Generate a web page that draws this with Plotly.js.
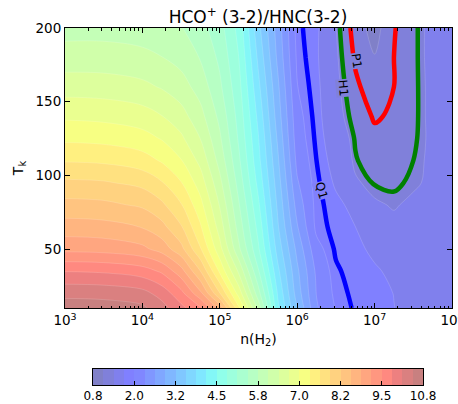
<!DOCTYPE html>
<html><head><meta charset="utf-8">
<script src="https://cdn.plot.ly/plotly-3.0.1.min.js"></script>
<style>html,body{margin:0;padding:0;background:#fff}</style>
</head><body><div id="chart" style="width:458px;height:404px"></div>
<script>
// density n(H2) grid (cm^-3) and kinetic temperature grid (K)
const nH2 = [1e3, 3.162e3, 1e4, 1.778e4, 3.162e4, 5.623e4, 1e5, 1.778e5, 3.162e5, 5.623e5,
             1e6, 1.778e6, 3.162e6, 5.623e6, 1e7, 1.778e7, 3.162e7, 5.623e7, 1e8];
const Tk = [10, 20, 35, 50, 65, 80, 95, 110, 125, 140, 160, 180, 200];
// HCO+(3-2)/HNC(3-2) ratio, one row per Tk value
const ratio = [
  [10.65,10.63,10.55,10.3,9.95,9.6,8.8,7.4,6.0,4.3,3.3,2.4,2.03,1.87,1.8,1.74,1.68,1.64,1.62],
  [10.4,10.38,10.28,10.05,9.65,9.0,8.0,6.9,5.6,4.2,3.15,2.35,1.98,1.85,1.78,1.735,1.67,1.64,1.62],
  [9.85,9.82,9.7,9.5,9.05,8.3,7.3,6.35,5.2,4.0,3.05,2.3,1.93,1.82,1.76,1.70,1.65,1.62,1.61],
  [9.15,9.12,9.0,8.8,8.4,7.7,6.85,5.85,4.9,3.8,2.9,2.15,1.87,1.78,1.70,1.60,1.58,1.59,1.60],
  [8.75,8.72,8.6,8.4,8.02,7.4,6.6,5.65,4.75,3.65,2.7,1.98,1.84,1.74,1.52,1.47,1.49,1.53,1.57],
  [8.4,8.37,8.25,8.05,7.7,7.15,6.4,5.5,4.6,3.55,2.55,1.96,1.80,1.66,1.45,1.41,1.46,1.50,1.55],
  [8.05,8.02,7.9,7.7,7.38,6.9,6.2,5.35,4.45,3.45,2.4,1.94,1.70,1.45,1.37,1.36,1.40,1.46,1.54],
  [7.65,7.62,7.5,7.33,7.07,6.65,6.0,5.22,4.33,3.35,2.28,1.90,1.62,1.39,1.32,1.33,1.38,1.46,1.54],
  [7.3,7.27,7.17,7.03,6.8,6.42,5.85,5.12,4.25,3.25,2.2,1.86,1.55,1.37,1.285,1.30,1.36,1.46,1.54],
  [7.0,6.97,6.88,6.75,6.55,6.22,5.72,5.05,4.15,3.15,2.15,1.83,1.49,1.33,1.235,1.27,1.35,1.47,1.55],
  [6.6,6.58,6.5,6.4,6.25,5.98,5.55,4.95,4.0,3.05,2.06,1.8,1.47,1.28,1.17,1.25,1.35,1.47,1.55],
  [6.25,6.25,6.2,6.12,6.0,5.78,5.42,4.85,3.85,2.92,2.0,1.77,1.45,1.23,1.12,1.25,1.35,1.48,1.56],
  [6.0,6.0,5.95,5.9,5.82,5.6,5.3,4.75,3.7,2.85,1.95,1.78,1.43,1.19,1.05,1.24,1.35,1.48,1.56]
];
// observed ratios of the sources, drawn as labelled contours
const sources = ['Q1', 'H1', 'P1'];
const sourceRatio = [1.9, 1.38, 1.25];
// colour levels and colorbar ticks
const levStart = 0.8, levEnd = 10.8, levSize = 0.3125;
const cbTickVals = [0.8, 2.05, 3.3, 4.55, 5.8, 7.05, 8.3, 9.55, 10.8];
const cbTickText = ['0.8', '2.0', '3.2', '4.5', '5.8', '7.0', '8.2', '9.5', '10.8'];
const xTickVals = [1e3, 1e4, 1e5, 1e6, 1e7, 1e8];
const xTickText = ['10<sup>3</sup>', '10<sup>4</sup>', '10<sup>5</sup>', '10<sup>6</sup>', '10<sup>7</sup>', '10<sup>8</sup>'];
const yTickVals = [50, 100, 150, 200];

// ---- styling ----
const W = 458, H = 404;
const sourceColor = ['#0000ff', '#008000', '#ff0000'];
const labelPos = [[6.31, 90, 74], [6.59, 159, 85], [6.76, 178, 82]];
const labelBg = ['rgb(128,128,252)', 'rgb(128,128,218)', 'rgb(128,128,218)'];
const FONT = 'DejaVu Sans';

function seg(pts, t) {
  for (let i = 0; i < pts.length - 1; i++) {
    const [x0, y0] = pts[i], [x1, y1] = pts[i + 1];
    if (t >= x0 && t <= x1) return y0 + (y1 - y0) * (t - x0) / (x1 - x0);
  }
  return pts[pts.length - 1][1];
}
function jetAlpha(t) {
  t = Math.max(0, Math.min(1, t));
  const r = seg([[0,0],[0.35,0],[0.66,1],[0.89,1],[1,0.5]], t);
  const g = seg([[0,0],[0.125,0],[0.375,1],[0.64,1],[0.91,0],[1,0]], t);
  const b = seg([[0,0.5],[0.11,1],[0.34,1],[0.65,0],[1,0]], t);
  const f = v => Math.round(255 * (0.5 * v + 0.5));
  return 'rgb(' + f(r) + ',' + f(g) + ',' + f(b) + ')';
}
const nBands = Math.round((levEnd - levStart) / levSize); // 32
const colorscale = [];
for (let k = 0; k <= nBands + 1; k++) {
  colorscale.push([k / (nBands + 1), jetAlpha((k - 0.5) / nBands)]);
}
// colorbar cells: one per band, centred on band middle
const cbMid = [], cbIdx = [];
for (let k = 1; k <= nBands; k++) { cbMid.push(levStart + (k - 0.5) * levSize); cbIdx.push(k); }

const minorVals = [];
for (let d = 3; d < 8; d++) for (let m = 2; m <= 9; m++) minorVals.push(m * Math.pow(10, d));

const traces = [{
  type: 'contour', x: nH2, y: Tk, z: ratio, autocontour: false, showscale: false,
  colorscale: colorscale, hoverinfo: 'skip',
  contours: {start: levStart, end: levEnd, size: levSize, coloring: 'fill', showlines: true},
  line: {color: 'rgba(255,255,255,0.3)', width: 0.5, smoothing: 1}
}];
sources.forEach((s, i) => traces.push({
  type: 'contour', x: nH2, y: Tk, z: ratio, showscale: false, autocontour: false, hoverinfo: 'skip',
  contours: {start: sourceRatio[i], end: sourceRatio[i], size: 1, coloring: 'none'},
  line: {color: sourceColor[i], width: 4.5, smoothing: 1}
}));
// colour bar drawn as a one-row heatmap on its own axes
traces.push({
  type: 'heatmap', x: cbMid, y: [0.5], z: [cbIdx], zmin: 0, zmax: nBands + 1,
  colorscale: colorscale, showscale: false, hoverinfo: 'skip', xaxis: 'x2', yaxis: 'y2'
});

const annotations = sources.map((s, i) => ({
  x: labelPos[i][0], y: labelPos[i][1], xref: 'x', yref: 'y', text: s, showarrow: false,
  textangle: labelPos[i][2], bgcolor: labelBg[i], borderpad: 0,
  font: {family: FONT, size: 12, color: '#000'}
}));

const axisCommon = {showline: true, linecolor: '#000', linewidth: 1, mirror: 'allticks',
  ticks: 'inside', ticklen: 5, tickcolor: '#000', showgrid: false, zeroline: false,
  ticklabeloverflow: 'allow',
  tickfont: {family: FONT, size: 13.5, color: '#000'}};

const layout = {
  width: W, height: H, paper_bgcolor: '#fff', plot_bgcolor: '#fff',
  margin: {l: 0, r: 0, t: 0, b: 0},
  font: {family: FONT, color: '#000'},
  title: {text: 'HCO<sup>+</sup> (3-2)/HNC(3-2)', font: {family: FONT, size: 17, color: '#000'},
          x: 258 / W, xref: 'container', xanchor: 'center', y: 1 - 17 / H, yanchor: 'middle'},
  xaxis: Object.assign({}, axisCommon, {type: 'log', range: [3, 8], domain: [65 / W, 452 / W],
    anchor: 'y', tickmode: 'array', tickvals: xTickVals, ticktext: xTickText,
    minor: {ticks: 'inside', ticklen: 2.5, tickcolor: '#000', tickvals: minorVals},
    title: {text: 'n(H<sub>2</sub>)', font: {family: FONT, size: 14, color: '#000'}, standoff: 6}}),
  yaxis: Object.assign({}, axisCommon, {range: [10, 200], domain: [(H - 308) / H, (H - 28) / H],
    anchor: 'x', tickmode: 'array', tickvals: yTickVals,
    title: {text: 'T<sub>k</sub>', font: {family: FONT, size: 14, color: '#000'}, standoff: 8}}),
  xaxis2: {domain: [93 / W, 423 / W], anchor: 'y2', range: [levStart, levEnd], showgrid: false, zeroline: false,
    showline: true, mirror: true, linecolor: '#000', linewidth: 1,
    tickmode: 'array', tickvals: cbTickVals, ticktext: cbTickText, ticks: 'inside', ticklen: 4,
    tickcolor: '#000', ticklabeloverflow: 'allow', tickfont: {family: FONT, size: 12, color: '#000'}},
  yaxis2: {domain: [(H - 385) / H, (H - 369) / H], anchor: 'x2', range: [0, 1], showgrid: false,
    zeroline: false, showline: true, mirror: true, linecolor: '#000', linewidth: 1,
    showticklabels: false, ticks: ''},
  annotations: annotations,
  showlegend: false
};
Plotly.newPlot('chart', traces, layout, {staticPlot: true, displayModeBar: false});
</script></body></html>
